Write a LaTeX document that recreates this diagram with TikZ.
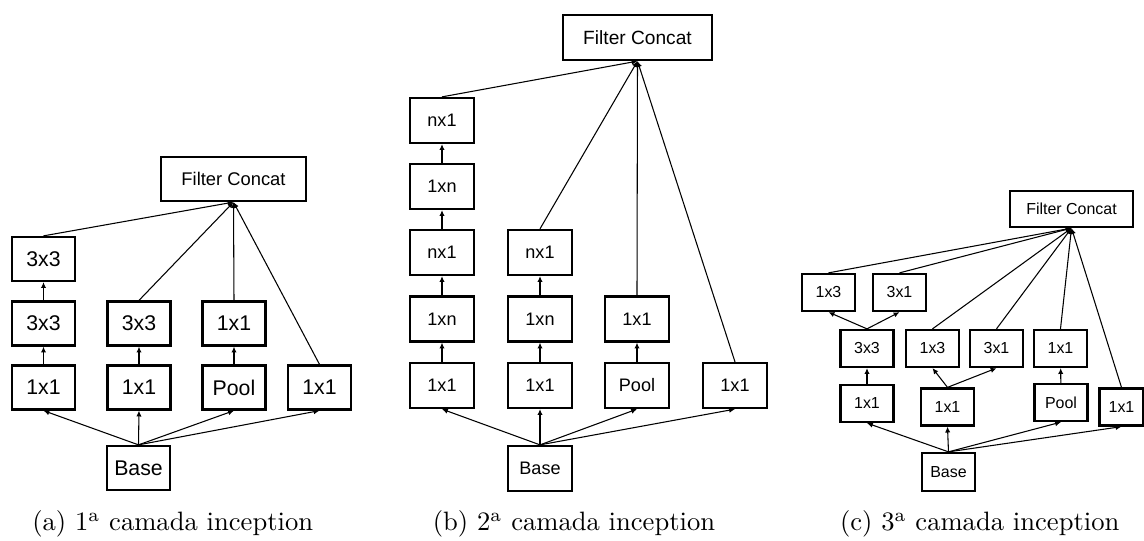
\documentclass[tikz,border=0pt]{standalone}
\usepackage{fontspec}
\usetikzlibrary{arrows.meta}
\newfontfamily\arial{Liberation Sans}
\newcommand{\pxu}{0.376pt}
\newcommand{\fsz}[1]{\arial\fontsize{#1}{#1}\selectfont}

\begin{document}
\begin{tikzpicture}[x=\pxu, y=-\pxu,
    box/.style = {draw, line width=0.85pt, inner sep=0pt},
    boxa/.style = {box, minimum width=63*\pxu, minimum height=44*\pxu, font={\fsz{8}}},
    boxb/.style = {box, minimum width=64*\pxu, minimum height=45*\pxu, font={\fsz{6.8}}},
    boxc/.style = {box, minimum width=53*\pxu, minimum height=37*\pxu, font={\fsz{6}}},
    arr/.style = {line width=0.4pt, -{Latex[length=2.2pt, width=2pt]}}]
  \useasboundingbox (0,0) rectangle (1144,541);

  % (a) 1a camada
  \node[box, minimum width=145*\pxu, minimum height=44*\pxu, font={\fsz{6.9}}] (FCa) at (233.5,179) {Filter Concat};
  \foreach \n\x\y\t in {a1/43.5/259/3x3, a2/43.5/323.5/3x3, a3/43.5/387.5/1x1,
      a4/139/323.5/3x3, a5/139/387.5/1x1, a6/234/323.5/1x1, a7/234/387.5/Pool,
      a8/319.5/387.5/1x1, Ba/138.5/468/Base} {
    \node[boxa] (\n) at (\x,\y) {\t};
  }
  \foreach \i\j in {a3/a2, a2/a1, a5/a4, a7/a6} {
    \draw[arr] (\i) -- (\j);
  }
  \foreach \i in {a3, a5, a7, a8} {
    \draw[arr] (Ba.north) -- (\i.south);
  }
  \foreach \i in {a1, a4, a6, a8} {
    \draw[arr] (\i.north) -- (FCa.south);
  }

  % (b) 2a camada
  \node[box, minimum width=149*\pxu, minimum height=45*\pxu, font={\fsz{7.2}}] (FCb) at (637.5,37.5) {Filter Concat};
  \foreach \n\x\y\t in {b11/442/385.5/1x1, b12/442/319/1xn, b13/442/252.5/nx1,
      b14/442/186.5/1xn, b15/442/120.5/nx1, b21/540/385.5/1x1, b22/540/319/1xn,
      b23/540/252.5/nx1, b31/637/385.5/Pool, b32/637/319/1x1, b41/735/385.5/1x1,
      Bb/540/468.5/Base} {
    \node[boxb] (\n) at (\x,\y) {\t};
  }
  \foreach \i\j in {b11/b12, b12/b13, b13/b14, b14/b15, b21/b22, b22/b23, b31/b32} {
    \draw[arr] (\i) -- (\j);
  }
  \foreach \i in {b11, b21, b31, b41} {
    \draw[arr] (Bb.north) -- (\i.south);
  }
  \foreach \i in {b15, b23, b32, b41} {
    \draw[arr] (\i.north) -- (FCb.south);
  }

  % (c) 3a camada
  \node[box, minimum width=123*\pxu, minimum height=36*\pxu, font={\fsz{6}}] (FCc) at (1071.5,209) {Filter Concat};
  \foreach \n\x\y\t in {c1/828.5/292.5/1x3, c2/899.5/292.5/3x1, c3/867/348.5/3x3,
      c4/932.5/348.5/1x3, c5/996.5/348.5/3x1, c6/1060.5/348.5/1x1,
      c7/867/403.5/1x1, c8/947.5/407/1x1, c9/1061/402.5/Pool} {
    \node[boxc] (\n) at (\x,\y) {\t};
  }
  \node[boxc, minimum width=44*\pxu] (c10) at (1121.5,407) {1x1};
  \node[boxc, minimum height=38*\pxu] (Bc) at (948.5,472) {Base};
  \foreach \i\j in {c7/c3, c9/c6} {
    \draw[arr] (\i) -- (\j);
  }
  \foreach \i\j in {c3/c1, c3/c2, c8/c4, c8/c5} {
    \draw[arr] (\i.north) -- (\j.south);
  }
  \foreach \i in {c7, c8, c9, c10} {
    \draw[arr] (Bc.north) -- (\i.south);
  }
  \foreach \i in {c1, c2, c4, c5, c6, c10} {
    \draw[arr] (\i.north) -- (FCc.south);
  }

  % legendas
  \node[anchor=base] (capa) at (172.7,531) {(a) 1\textsuperscript{a} camada inception};
  \node[anchor=base] (capb) at (574,531) {(b) 2\textsuperscript{a} camada inception};
  \node[anchor=base] (capc) at (979.7,531) {(c) 3\textsuperscript{a} camada inception};
\end{tikzpicture}
\end{document}
